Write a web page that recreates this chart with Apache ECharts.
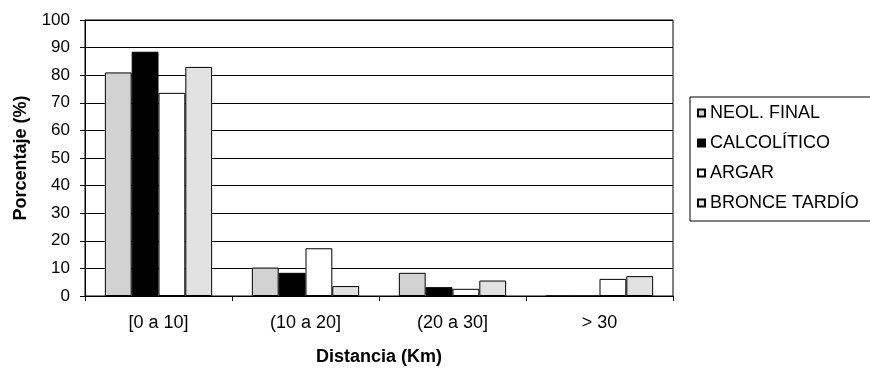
<!DOCTYPE html>
<html>
<head>
<meta charset="utf-8">
<script src="https://cdn.jsdelivr.net/npm/echarts@6/dist/echarts.min.js"></script>
<style>
  html, body { margin: 0; padding: 0; background: #ffffff; }
  #chart { width: 870px; height: 371px; }
</style>
</head>
<body>
<div id="chart"></div>
<script>
// Distance classes and percentage of sites per period
const categories = ['[0 a 10]', '(10 a 20]', '(20 a 30]', '> 30'];
const seriesNames = ['NEOL. FINAL', 'CALCOLÍTICO', 'ARGAR', 'BRONCE TARDÍO'];
const neolFinal = [81.0, 10.3, 8.4, 0];
const calcolitico = [88.5, 8.4, 3.2, 0];
const argar = [73.6, 17.3, 2.6, 6.2];
const bronceTardio = [83.0, 3.6, 5.6, 7.2];
const yTicks = { min: 0, max: 100, interval: 10 };

const fills = ['#d2d2d2', '#000000', '#ffffff', '#e2e2e2'];
const values = [neolFinal, calcolitico, argar, bronceTardio];
const font = 'Liberation Sans, Arial, sans-serif';

const chart = echarts.init(document.getElementById('chart'), null, { renderer: 'canvas' });

chart.setOption({
  animation: false,
  backgroundColor: '#ffffff',
  textStyle: { fontFamily: font, color: '#000' },
  grid: {
    left: 85, right: 197, top: 20, bottom: 73,
    show: true, borderColor: '#000', borderWidth: 1, backgroundColor: '#ffffff'
  },
  legend: {
    orient: 'vertical',
    left: 690, top: 97,
    padding: [7, 20, 9, 7],
    itemWidth: 7, itemHeight: 7, itemGap: 12,
    icon: 'rect',
    borderColor: '#000', borderWidth: 1,
    backgroundColor: '#ffffff',
    textStyle: { fontFamily: font, fontSize: 18, color: '#000', lineHeight: 18 },
    data: seriesNames
  },
  xAxis: {
    type: 'category',
    data: categories,
    name: 'Distancia (Km)',
    nameLocation: 'middle',
    nameGap: 52,
    nameTextStyle: { fontFamily: font, fontSize: 18, fontWeight: 'bold', color: '#000' },
    axisLine: { lineStyle: { color: '#000', width: 1 } },
    axisTick: { show: true, length: 5, inside: false, lineStyle: { color: '#000' } },
    axisLabel: { fontFamily: font, fontSize: 18, color: '#000', margin: 18 },
    splitLine: { show: false }
  },
  yAxis: {
    type: 'value',
    min: yTicks.min, max: yTicks.max, interval: yTicks.interval,
    name: 'Porcentaje (%)',
    nameLocation: 'middle',
    nameGap: 55,
    nameTextStyle: { fontFamily: font, fontSize: 18, fontWeight: 'bold', color: '#000' },
    axisLine: { show: true, lineStyle: { color: '#000', width: 1 } },
    axisTick: { show: true, length: 5, inside: false, lineStyle: { color: '#000' } },
    axisLabel: { fontFamily: font, fontSize: 17, color: '#000', margin: 15 },
    splitLine: { show: true, lineStyle: { color: '#000', width: 1 } }
  },
  series: seriesNames.map((name, i) => ({
    name: name,
    type: 'bar',
    data: values[i],
    barGap: '0%',
    barCategoryGap: '27%',
    itemStyle: { color: fills[i], borderColor: '#000', borderWidth: 1 }
  }))
});
</script>
</body>
</html>
